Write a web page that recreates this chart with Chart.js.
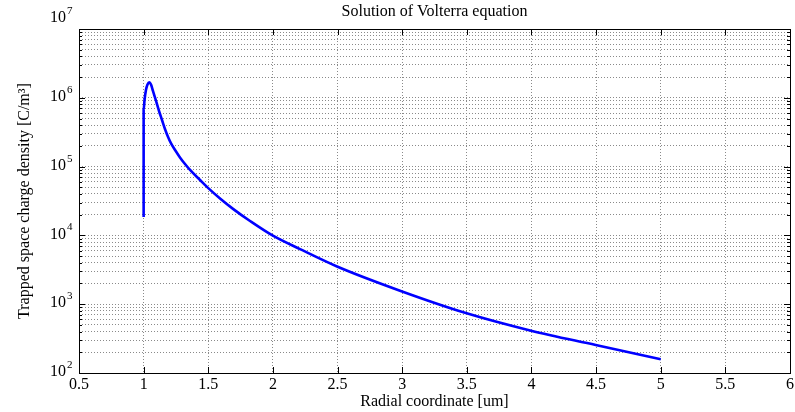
<!DOCTYPE html>
<html>
<head>
<meta charset="utf-8">
<script src="https://cdn.jsdelivr.net/npm/chart.js@4.4.1/dist/chart.umd.min.js"></script>
<style>
  html, body { margin: 0; padding: 0; background: #ffffff; }
  #wrap { width: 795px; height: 412px; }
</style>
</head>
<body>
<div id="wrap"><canvas id="chart" width="795" height="412"></canvas></div>
<script>
// Radial coordinate [um] and trapped space charge density [C/m^3]
const radius = [1.000, 1.000, 1.000, 1.007, 1.018, 1.030, 1.044, 1.057, 1.072, 1.096,
                1.119, 1.142, 1.165, 1.189, 1.212, 1.243, 1.281, 1.320, 1.359, 1.436,
                1.500, 1.591, 1.694, 1.823, 2.000, 2.210, 2.496, 2.983, 3.499, 3.997,
                4.497, 5.000];
const density = [1.85e4, 1.74e5, 6.65e5, 9.29e5, 1.30e6, 1.56e6, 1.68e6, 1.56e6, 1.26e6, 8.99e5,
                 6.43e5, 4.76e5, 3.52e5, 2.69e5, 2.17e5, 1.74e5, 1.36e5, 1.09e5, 8.93e4, 6.39e4,
                 4.87e4, 3.44e4, 2.41e4, 1.62e4, 9.9e3, 6.31e3, 3.53e3, 1.57e3, 737, 412,
                 255, 158];

// Axis ticks
const xTicks = [0.5, 1, 1.5, 2, 2.5, 3, 3.5, 4, 4.5, 5, 5.5, 6];
const yDecades = [2, 3, 4, 5, 6, 7];
const yMinorSteps = [2, 3, 4, 5, 6, 7, 8, 9];

const SERIF = '"Liberation Serif", "Times New Roman", serif';

function yTickValues() {
  const vals = [];
  yDecades.forEach((d, i) => {
    vals.push(Math.pow(10, d));
    if (i < yDecades.length - 1) {
      yMinorSteps.forEach(m => vals.push(m * Math.pow(10, d)));
    }
  });
  return vals.sort((a, b) => a - b);
}

// Box around the axes, inward tick marks and the 10^n labels
const axesDecor = {
  id: 'axesDecor',
  afterDraw(chart) {
    const { ctx, chartArea: a, scales } = chart;
    const xs = scales.x, ys = scales.y;
    const crisp = v => Math.round(v) + 0.5;
    ctx.save();
    ctx.strokeStyle = '#000000';
    ctx.lineWidth = 1;
    ctx.setLineDash([]);
    ctx.beginPath();
    xTicks.forEach(v => {
      const px = crisp(xs.getPixelForValue(v));
      ctx.moveTo(px, a.bottom); ctx.lineTo(px, a.bottom - 6);
      ctx.moveTo(px, a.top); ctx.lineTo(px, a.top + 6);
    });
    yTickValues().forEach(v => {
      const py = crisp(ys.getPixelForValue(v));
      const major = Math.abs(Math.log10(v) - Math.round(Math.log10(v))) < 1e-9;
      const len = major ? 6 : 3;
      ctx.moveTo(a.left, py); ctx.lineTo(a.left + len, py);
      ctx.moveTo(a.right, py); ctx.lineTo(a.right - len, py);
    });
    ctx.stroke();
    ctx.strokeRect(crisp(a.left), crisp(a.top), Math.round(a.right - a.left), Math.round(a.bottom - a.top));

    ctx.fillStyle = '#000000';
    const topDecade = yDecades[yDecades.length - 1];
    yDecades.forEach(d => {
      let py = ys.getPixelForValue(Math.pow(10, d)) - 1;
      if (d === topDecade) py -= 10;
      ctx.font = '16px ' + SERIF;
      ctx.textAlign = 'right';
      ctx.textBaseline = 'middle';
      ctx.fillText('10', a.left - 13, py);
      ctx.font = '11px ' + SERIF;
      ctx.textAlign = 'left';
      ctx.textBaseline = 'alphabetic';
      ctx.fillText(String(d), a.left - 12, py - 4);
    });
    ctx.restore();
  }
};

const gridStyle = { color: '#8a8a8a', lineWidth: 1, drawTicks: false, tickLength: 0 };

new Chart(document.getElementById('chart'), {
  type: 'line',
  data: {
    datasets: [{
      data: radius.map((r, i) => ({ x: r, y: density[i] })),
      borderColor: '#0000ff',
      borderWidth: 2.6,
      pointRadius: 0,
      fill: false,
      cubicInterpolationMode: 'monotone'
    }]
  },
  options: {
    responsive: false,
    devicePixelRatio: 1,
    animation: false,
    layout: { padding: { left: 0, right: 5, top: 0, bottom: 0 } },
    plugins: {
      legend: { display: false },
      tooltip: { enabled: false },
      title: {
        display: true,
        fullSize: false,
        text: 'Solution of Volterra equation',
        color: '#000000',
        font: { family: SERIF, size: 16, weight: 'normal', lineHeight: 1 },
        padding: { top: 4, bottom: 9 }
      }
    },
    scales: {
      x: {
        type: 'linear',
        min: 0.5,
        max: 6,
        afterBuildTicks: s => { s.ticks = xTicks.map(v => ({ value: v })); },
        afterFit: s => { s.height = 39; s.paddingLeft = 0; s.paddingRight = 0; },
        ticks: {
          color: '#000000',
          font: { family: SERIF, size: 16 },
          padding: 2,
          maxRotation: 0,
          autoSkip: false,
          callback: v => String(v)
        },
        grid: gridStyle,
        border: { display: false, dash: [1, 2] },
        title: {
          display: true,
          text: 'Radial coordinate [um]',
          color: '#000000',
          font: { family: SERIF, size: 16, lineHeight: 1 },
          padding: { top: 0, bottom: 2 }
        }
      },
      y: {
        type: 'logarithmic',
        min: 100,
        max: 1e7,
        afterBuildTicks: s => { s.ticks = yTickValues().map(v => ({ value: v })); },
        afterFit: s => { s.width = 79; s.paddingTop = 0; s.paddingBottom = 0; },
        ticks: { display: false },
        grid: gridStyle,
        border: { display: false, dash: [1, 2] },
        title: {
          display: true,
          text: 'Trapped space charge density [C/m³]',
          color: '#000000',
          font: { family: SERIF, size: 16, lineHeight: 1 },
          padding: { top: 17, bottom: 0 }
        }
      }
    }
  },
  plugins: [axesDecor]
});
</script>
</body>
</html>
